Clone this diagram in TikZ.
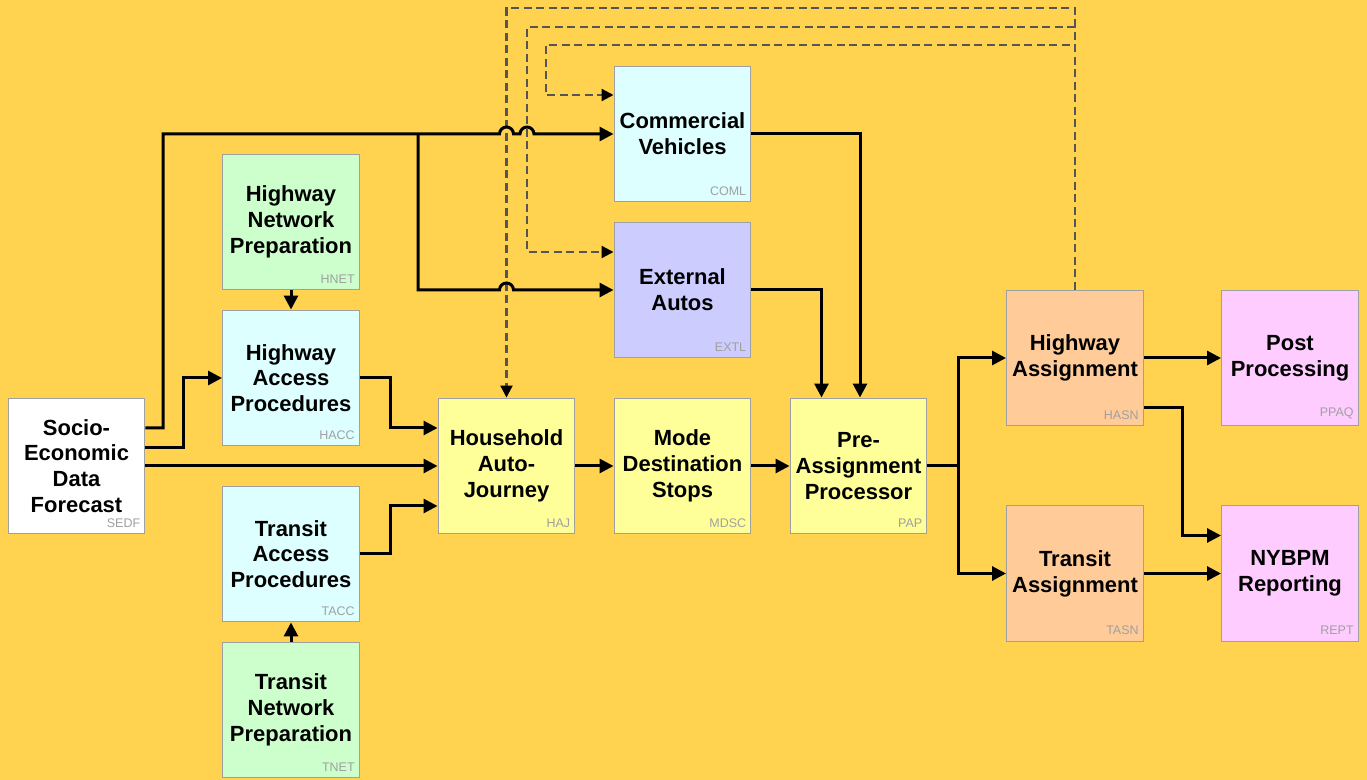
\documentclass[tikz,border=0pt]{standalone}
\usepackage{fontspec}
\setmainfont{Liberation Sans}
\usetikzlibrary{arrows.meta,calc}
\definecolor{bg}{RGB}{255,210,80}
\definecolor{boxline}{RGB}{160,160,160}
\definecolor{taggray}{RGB}{160,160,160}
\definecolor{dashgray}{RGB}{85,85,85}
\definecolor{cgreen}{RGB}{204,255,204}
\definecolor{ccyan}{RGB}{221,255,255}
\definecolor{cviolet}{RGB}{204,204,255}
\definecolor{cyellow}{RGB}{255,255,153}
\definecolor{cpeach}{RGB}{255,204,153}
\definecolor{cpink}{RGB}{255,204,255}
\begin{document}
\begin{tikzpicture}[x=0.02cm,y=-0.02cm,
  box/.style={draw=boxline, line width=0.02cm, minimum width=2.74cm, minimum height=2.72cm,
    inner sep=0pt, align=center, text width=2.74cm,
    font=\bfseries\fontsize{12.5}{14.7}\selectfont},
  tag/.style={anchor=south east, inner sep=0pt, text=taggray, font=\fontsize{7.1}{8}\selectfont},
  conn/.style={line width=0.06cm, -{Triangle[length=0.28cm,width=0.28cm]}},
  plainline/.style={line width=0.06cm},
  fbline/.style={draw=dashgray, line width=0.045cm, dash pattern=on 0.16cm off 0.09cm,
    -{Triangle[length=0.24cm,width=0.24cm,color=black,fill=black]}}]
\fill[bg] (0,0) rectangle (1367,780);
\useasboundingbox (0,0) rectangle (1367,780);

% boxes
\node[box, fill=white]   (sedf) at (76.5,466)  {Socio-\\Economic\\Data\\Forecast};
\node[box, fill=cgreen]  (hnet) at (291,222)   {Highway\\Network\\Preparation};
\node[box, fill=ccyan]   (hacc) at (291,378)   {Highway\\Access\\Procedures};
\node[box, fill=ccyan]   (tacc) at (291,554)   {Transit\\Access\\Procedures};
\node[box, fill=cgreen]  (tnet) at (291,710)   {Transit\\Network\\Preparation};
\node[box, fill=cyellow] (haj)  at (506.5,466) {Household\\Auto-\\Journey};
\node[box, fill=cyellow] (mdsc) at (682.5,466) {Mode\\Destination\\Stops};
\node[box, fill=cyellow] (pap)  at (858.5,466) {Pre-\\Assignment\\Processor};
\node[box, fill=ccyan]   (coml) at (682.5,134) {Commercial\\Vehicles};
\node[box, fill=cviolet] (extl) at (682.5,290) {External\\Autos};
\node[box, fill=cpeach]  (hasn) at (1075,358)  {Highway\\Assignment};
\node[box, fill=cpeach]  (tasn) at (1075,573.5){Transit\\Assignment};
\node[box, fill=cpink]   (ppaq) at (1290,358)  {Post\\Processing};
\node[box, fill=cpink]   (rept) at (1290,573.5){NYBPM\\Reporting};

% tags
\foreach \n/\t in {sedf/SEDF,hnet/HNET,hacc/HACC,tacc/TACC,tnet/TNET,haj/HAJ,mdsc/MDSC,pap/PAP,
  coml/COML,extl/EXTL,hasn/HASN,tasn/TASN,ppaq/PPAQ,rept/REPT}
  \node[tag] (tag-\n) at ([xshift=-0.1cm,yshift=0.14cm]\n.south east) {\t};

% dashed feedback from highway assignment
\draw[fbline] (hasn.north) |- (506.5,8) -- (haj.north);
\draw[fbline] (hasn.north) |- (527,27) |- ($(extl.west)+(0,-38)$);
\draw[fbline] (hasn.north) |- (546,45) |- ($(coml.west)+(0,-39)$);

% SEDF connectors
\coordinate (j1) at (418,134);
\draw[conn] ($(sedf.east)+(0,-38)$) -- (163,428) -- (163,134) -- (499.5,134)
  arc[start angle=180,end angle=0,radius=0.14cm] -- (520,134)
  arc[start angle=180,end angle=0,radius=0.14cm] -- (coml.west);
\draw[conn] (j1) -- (418,290) -- (499.5,290)
  arc[start angle=180,end angle=0,radius=0.14cm] -- (extl.west);
\draw[conn] ($(sedf.east)+(0,-18)$) -- ++(38,0) |- (hacc.west);
\draw[conn] (sedf.east) -- (haj.west);

% network preparation
\draw[conn] (hnet.south) -- (hacc.north);
\draw[conn] (tnet.north) -- (tacc.south);

% access procedures to HAJ
\draw[conn] (hacc.east) -- ++(31,0) |- ($(haj.west)+(0,-38)$);
\draw[conn] (tacc.east) -- ++(31,0) |- ($(haj.west)+(0,40)$);

% main chain
\draw[conn] (haj.east) -- (mdsc.west);
\draw[conn] (mdsc.east) -- (pap.west);
\draw[conn] (coml.east) -| ($(pap.north)+(1.5,0)$);
\draw[conn] (extl.east) -| ($(pap.north)+(-37,0)$);

% PAP to assignments
\coordinate (split) at ($(pap.east)+(31,0)$);
\draw[plainline] (pap.east) -- (split);
\draw[conn] (split) |- (hasn.west);
\draw[conn] (split) |- (tasn.west);

% assignments to outputs
\draw[conn] (hasn.east) -- (ppaq.west);
\draw[conn] ($(hasn.east)+(0,50)$) -- ++(39,0) |- ($(rept.west)+(0,-38)$);
\draw[conn] (tasn.east) -- (rept.west);
\end{tikzpicture}
\end{document}
